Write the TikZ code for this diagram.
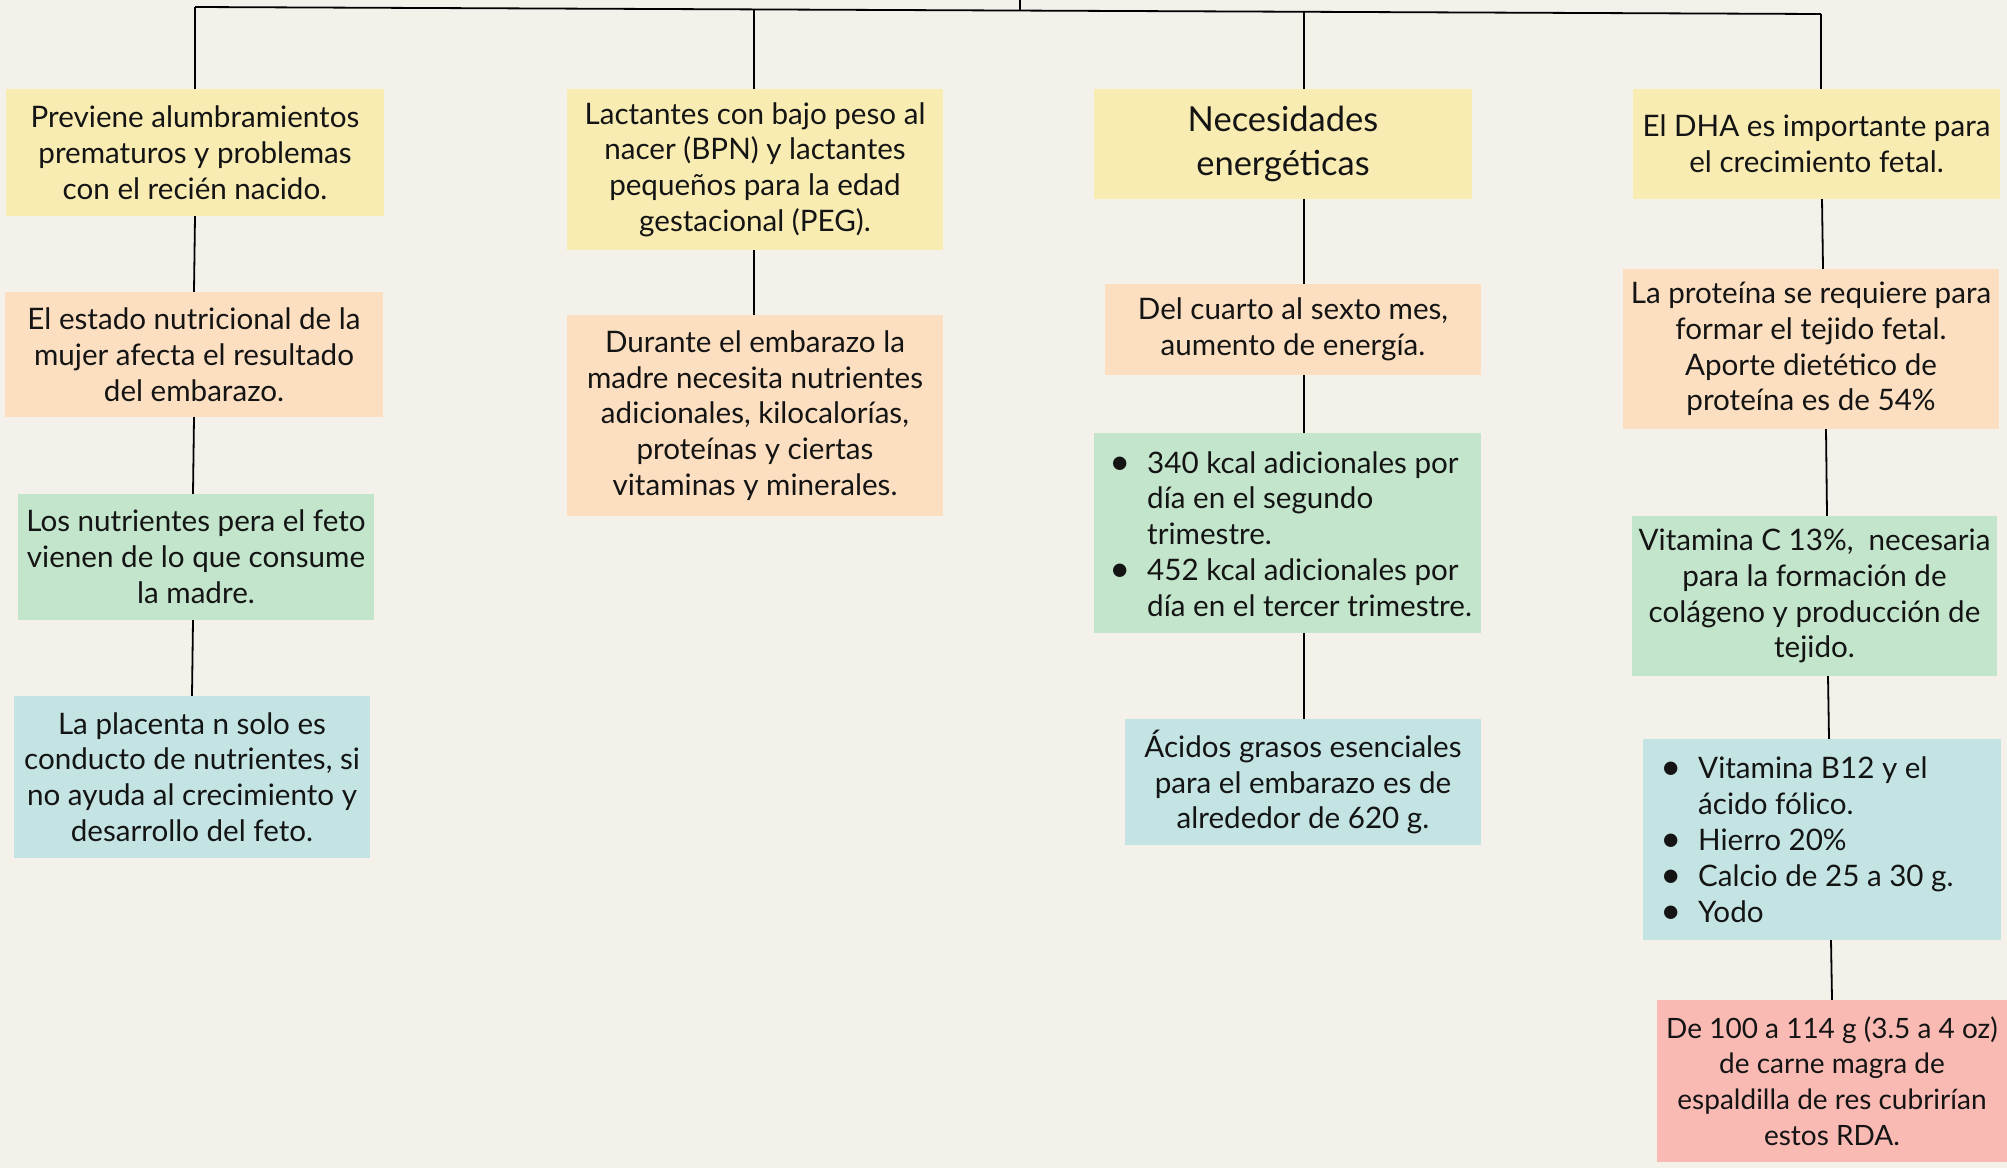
\documentclass[tikz,border=0pt]{standalone}
\usepackage{fontspec}
\setmainfont{Lato}
\definecolor{bgc}{HTML}{F4F0EA}
\definecolor{cyel}{HTML}{F8ECB3}
\definecolor{cpea}{HTML}{FCDFC0}
\definecolor{cgre}{HTML}{C3E5CB}
\definecolor{cblu}{HTML}{C3E4E3}
\definecolor{cpin}{HTML}{F9BAB4}
\definecolor{ctxt}{HTML}{141414}
\newcommand{\bul}{\leavevmode\llap{\raisebox{-1pt}{\fontsize{36}{36}\selectfont\textbullet}\hspace{17pt}}}
\begin{document}
\begin{tikzpicture}[x=1pt,y=-1pt,
  box/.style={rectangle,inner sep=0pt,align=center,text=ctxt,
    font=\fontsize{29.6}{35.8}\selectfont},
  conn/.style={line width=1.8pt,draw=black}]
\fill[bgc] (0,0) rectangle (2007,1168);
\useasboundingbox (0,0) rectangle (2007,1168);
% column 1
\node[box,fill=cyel,minimum width=378pt,minimum height=127pt] (A1) at (195,152.5)
  {Previene alumbramientos\\prematuros y problemas\\con el recién nacido.};
\node[box,fill=cpea,minimum width=378pt,minimum height=125pt] (A2) at (194,354.5)
  {El estado nutricional de la\\mujer afecta el resultado\\del embarazo.};
\node[box,fill=cgre,minimum width=356pt,minimum height=126pt] (A3) at (196,557)
  {Los nutrientes pera el feto\\vienen de lo que consume\\la madre.};
\node[box,fill=cblu,minimum width=356pt,minimum height=162pt] (A4) at (192,777)
  {La placenta n solo es\\conducto de nutrientes, si\\no ayuda al crecimiento y\\desarrollo del feto.};
% column 2
\node[box,fill=cyel,minimum width=376pt,minimum height=161pt] (B1) at (755,169.5)
  {Lactantes con bajo peso al\\nacer (BPN) y lactantes\\pequeños para la edad\\gestacional (PEG).};
\node[box,fill=cpea,minimum width=376pt,minimum height=201pt] (B2) at (755,415.5)
  {Durante el embarazo la\\madre necesita nutrientes\\adicionales, kilocalorías,\\proteínas y ciertas\\vitaminas y minerales.};
% column 3
\node[box,fill=cyel,minimum width=378pt,minimum height=110pt,
  font=\fontsize{34.5}{43.5}\selectfont] (C1) at (1283,144)
  {Necesidades\\energéticas};
\node[box,fill=cpea,minimum width=376pt,minimum height=91pt] (C2) at (1293,329.5)
  {Del cuarto al sexto mes,\\aumento de energía.};
\node[box,fill=cgre,minimum width=387pt,minimum height=200pt] (C3) at (1287.5,533) {};
\node[box,align=left,anchor=west] (C3t) at (1147,534)
  {\bul 340 kcal adicionales por\\día en el segundo\\trimestre.\\\bul 452 kcal adicionales por\\día en el tercer trimestre.};
\node[box,fill=cblu,minimum width=356pt,minimum height=126pt] (C4) at (1303,782)
  {Ácidos grasos esenciales\\para el embarazo es de\\alrededor de 620 g.};
% column 4
\node[box,fill=cyel,minimum width=367pt,minimum height=110pt] (D1) at (1816.5,144)
  {El DHA es importante para\\el crecimiento fetal.};
\node[box,fill=cpea,minimum width=376pt,minimum height=160pt] (D2) at (1811,349)
  {La proteína se requiere para\\formar el tejido fetal.\\Aporte dietético de\\proteína es de 54\%};
\node[box,fill=cgre,minimum width=365pt,minimum height=160pt] (D3) at (1814.5,596)
  {Vitamina C 13\%,\ \ necesaria\\para la formación de\\colágeno y producción de\\tejido.};
\node[box,fill=cblu,minimum width=358pt,minimum height=201pt] (D4) at (1822,839.5) {};
\node[box,align=left,anchor=west] (D4t) at (1698,840)
  {\bul Vitamina B12 y el\\ácido fólico.\\\bul Hierro 20\%\\\bul Calcio de 25 a 30 g.\\\bul Yodo};
\node[box,fill=cpin,minimum width=350pt,minimum height=162pt,
  font=\fontsize{28}{35.8}\selectfont] (D5) at (1832,1081)
  {De 100 a 114 g (3.5 a 4 oz)\\de carne magra de\\espaldilla de res cubrirían\\estos RDA.};
% top connectors
\coordinate (TL) at (195,7);
\coordinate (TR) at (1821,14);
\coordinate (TT) at (1020,0);
\draw[conn] (TL) -- (TR);
\draw[conn] (TT) -- (1020,9.5);
\draw[conn] (TL) -- (A1.north -| TL);
\draw[conn] (754,9) -- (B1.north -| 754,0);
\draw[conn] (1304,11) -- (C1.north -| 1304,0);
\draw[conn] (TR) -- (D1.north -| TR);
% column connectors
\draw[conn] (A1.south -| 195,0) -- (A2.north -| 194,0);
\draw[conn] (A2.south -| 194,0) -- (A3.north -| 193,0);
\draw[conn] (A3.south -| 193,0) -- (A4.north -| 192,0);
\draw[conn] (B1.south -| 754,0) -- (B2.north -| 754,0);
\draw[conn] (C1.south -| 1304,0) -- (C2.north -| 1304,0);
\draw[conn] (C2.south -| 1304,0) -- (C3.north -| 1304,0);
\draw[conn] (C3.south -| 1304,0) -- (C4.north -| 1304,0);
\draw[conn] (D1.south -| 1822,0) -- (D2.north -| 1823,0);
\draw[conn] (D2.south -| 1826,0) -- (D3.north -| 1827,0);
\draw[conn] (D3.south -| 1828,0) -- (D4.north -| 1829,0);
\draw[conn] (D4.south -| 1831,0) -- (D5.north -| 1832,0);
\end{tikzpicture}
\end{document}
